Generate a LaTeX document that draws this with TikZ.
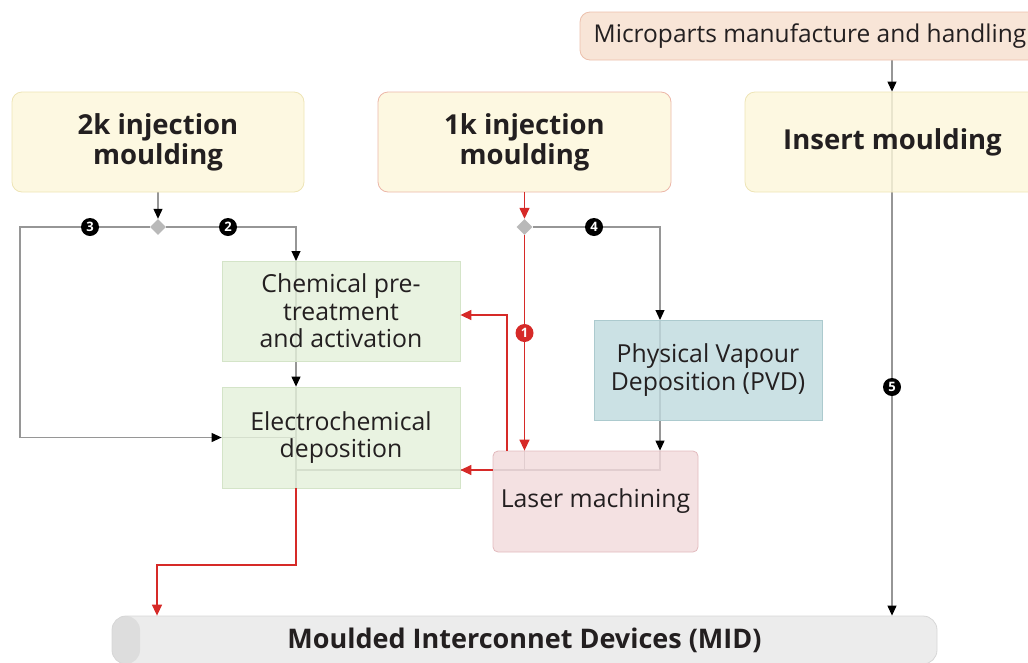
\documentclass[tikz,border=0pt]{standalone}
\usepackage{fontspec}
\setmainfont{Open Sans}
\usetikzlibrary{arrows.meta,shapes.geometric,calc,backgrounds}
\definecolor{txt}{RGB}{35,31,32}
\definecolor{yfill}{RGB}{252,247,218}
\definecolor{yborder}{RGB}{238,228,182}
\definecolor{pborder}{RGB}{236,182,168}
\definecolor{mfill}{RGB}{246,223,206}
\definecolor{mborder}{RGB}{236,192,172}
\definecolor{gfill}{RGB}{228,240,218}
\definecolor{gborder}{RGB}{212,228,200}
\definecolor{bfill}{RGB}{192,218,222}
\definecolor{bborder}{RGB}{172,202,206}
\definecolor{lfill}{RGB}{242,218,220}
\definecolor{lborder}{RGB}{226,186,189}
\definecolor{midfill}{RGB}{232,232,232}
\definecolor{midleft}{RGB}{218,218,218}
\definecolor{midborder}{RGB}{214,214,214}
\definecolor{glinec}{RGB}{150,150,150}
\definecolor{rlinec}{RGB}{214,42,40}
\definecolor{diafill}{RGB}{185,185,185}
\begin{document}
\begin{tikzpicture}[x=1pt,y=-1pt,
  box/.style={draw, line width=0.8pt, text=txt, align=center, inner sep=0pt, fill opacity=0.82, text opacity=1},
  titlefont/.style={font=\fontsize{27.5}{30}\selectfont\bfseries},
  bodyfont/.style={font=\fontsize{24.8}{27.5}\selectfont},
  gline/.style={draw=glinec, line width=1.1pt},
  garrow/.style={gline, -{Triangle[length=10pt,width=9pt,color=black]}},
  rline/.style={draw=rlinec, line width=1.4pt},
  rarrow/.style={rline, -{Triangle[length=11pt,width=10pt]}},
  num/.style={circle, fill=black, text=white, font=\fontsize{13}{13}\selectfont\bfseries, inner sep=0pt, minimum size=18pt},
  dia/.style={diamond, fill=diafill, inner sep=0pt, minimum size=16pt}]
\useasboundingbox (0,0) rectangle (1028,662);
\clip (0,0) rectangle (1028,662);

% nodes
\node[box, fill=mfill, draw=mborder, rounded corners=10pt, minimum width=460pt, minimum height=48pt,
      font=\fontsize{24.5}{28}\selectfont] (micro) at (810,36) {Microparts manufacture and handling};
\node[box, titlefont, fill=yfill, draw=yborder, rounded corners=10pt, minimum width=292pt, minimum height=100pt] (k2) at (158,142) {2k injection\\moulding};
\node[box, titlefont, fill=yfill, draw=pborder, rounded corners=10pt, minimum width=293pt, minimum height=100pt] (k1) at (524.5,142) {1k injection\\moulding};
\node[box, titlefont, fill=yfill, draw=yborder, rounded corners=10pt, minimum width=295pt, minimum height=100pt] (ins) at (892.5,142) {Insert moulding};
\node[box, bodyfont, fill=gfill, draw=gborder, minimum width=238pt, minimum height=100pt] (chem) at (341,311) {Chemical pre-\\treatment\\and activation};
\node[box, bodyfont, fill=gfill, draw=gborder, minimum width=238pt, minimum height=101pt] (elec) at (341,437.5) {Electrochemical\\deposition};
\node[box, bodyfont, fill=bfill, draw=bborder, minimum width=228pt, minimum height=100pt] (pvd) at (708,370) {Physical Vapour\\Deposition (PVD)};
\node[box, bodyfont, fill=lfill, draw=lborder, rounded corners=5pt, minimum width=205pt, minimum height=101pt] (laser) at (595.5,501.5) {Laser machining};
\node[box, font=\fontsize{27}{30}\selectfont\bfseries, fill=midfill, draw=midborder, rounded corners=14pt, minimum width=825pt, minimum height=48pt,
      path picture={\fill[midleft] (path picture bounding box.south west) rectangle ([xshift=28pt]path picture bounding box.north west);}]
      (mid) at (524.5,640) {Moulded Interconnet Devices (MID)};
\node[dia] (d1) at (158,227) {};
\node[dia] (d2) at (524.5,227) {};

% helper coordinates
\coordinate (c3) at (20,227);
\coordinate (cin) at (296,261);
\coordinate (rt) at (157,565);
\coordinate (pin) at (660,320);
\coordinate (lr) at (507,0);
\coordinate (ly) at (0,470);
\coordinate (ix) at (892,0);

% grey connectors behind the boxes
\begin{scope}[on background layer]
\draw[garrow] (k2.south) -- (d1.north);
\draw[garrow] (d1.west) -- (c3) |- (elec.west);
\draw[gline] (elec.west) -- (elec.west -| cin);
\draw[garrow] (d1.east) -| (cin);
\draw[garrow] (cin) -- (elec.north -| cin);
\draw[gline] (elec.north -| cin) -- (elec.south -| cin);
\draw[garrow] (d2.east) -| (pin);
\draw[garrow] (pin) -- (pin |- laser.north);
\draw[gline] (pin |- laser.north) -- (pin |- ly) -- (cin |- ly);
\draw[gline] (d2 |- laser.north) -- (d2 |- ly);
\draw[garrow] (micro.south -| ix) -- (ins.north -| ix);
\draw[garrow] (ins.north -| ix) -- (mid.north -| ix);
\end{scope}

% red connectors
\draw[rarrow] (k1.south) -- (d2.north);
\draw[rarrow] (d2.south) -- (d2 |- laser.north);
\draw[rarrow] (laser.north -| lr) |- ([yshift=-4pt]chem.east);
\draw[rarrow] (laser.west |- ly) -- (elec.east |- ly);
\draw[rarrow] (elec.south -| cin) |- (rt) -- (rt |- mid.north);

% numbered markers
\node[num] (n3) at (90,227) {3};
\node[num] (n2) at (228,227) {2};
\node[num] (n4) at (594,227) {4};
\node[num, fill=rlinec] (n1) at (524.5,333) {1};
\node[num] (n5) at (892,387) {5};
\end{tikzpicture}
\end{document}
